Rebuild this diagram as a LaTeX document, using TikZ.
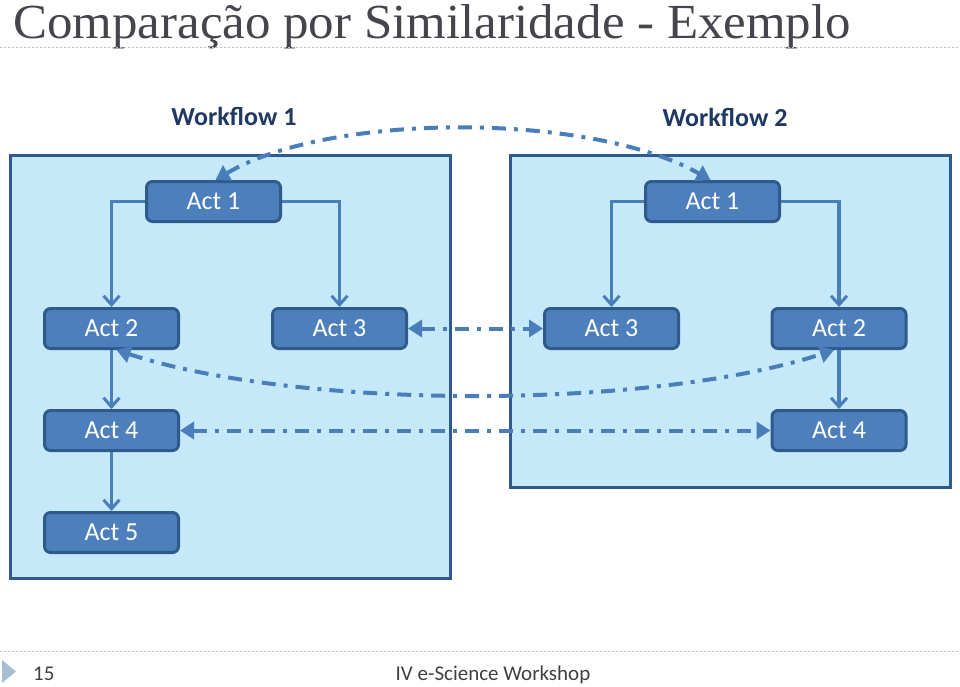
\documentclass[tikz,border=0pt]{standalone}
\usepackage{fontspec}
\setmainfont{Liberation Serif}
\newfontfamily\calfont{Carlito}
\usetikzlibrary{arrows.meta}
\definecolor{boxfill}{HTML}{C5E9F9}
\definecolor{boxline}{HTML}{2E5A8E}
\definecolor{actfill}{HTML}{4C7FBC}
\definecolor{actline}{HTML}{2F5A8C}
\definecolor{flowc}{HTML}{4A7EBB}
\definecolor{navy}{HTML}{1F3864}
\definecolor{titlec}{HTML}{45454E}
\definecolor{footc}{HTML}{404040}
\definecolor{tric}{HTML}{A7BFD3}
\tikzset{
  bigbox/.style={draw=boxline, fill=boxfill, line width=3pt},
  act/.style={draw=actline, fill=actfill, line width=3pt, rounded corners=6pt,
    minimum width=134pt, minimum height=40pt, inner sep=0pt, text=white,
    font=\calfont\fontsize{26}{30}\selectfont},
  flow/.style={draw=flowc, line width=3.4pt, -{Straight Barb[length=9pt,width=16pt,line width=3pt]}},
  match/.style={draw=flowc, line width=4pt, dash pattern=on 14pt off 8pt on 4pt off 8pt,
    {Triangle[length=14pt,width=17pt]}-{Triangle[length=14pt,width=17pt]}},
  wflabel/.style={text=navy, font=\calfont\bfseries\fontsize{26}{30}\selectfont, inner sep=0pt},
  sep/.style={draw=gray!50, line width=1pt, dash pattern=on 2pt off 2pt}
}
\begin{document}
\begin{tikzpicture}[x=1pt,y=-1pt]
\useasboundingbox (0,0) rectangle (960,686);
% title
\node[anchor=base west, text=titlec, font=\fontsize{49}{54}\selectfont, inner sep=0pt,
  xscale=1.04, text height=33pt, text depth=9pt] (title) at (13,38) {Comparação por Similaridade - Exemplo};
\draw[sep] (0,47) -- (960,47);
\draw[sep] (0,651) -- (960,651);
% footer
\fill[tric] (2,660) -- (16,671.5) -- (2,683) -- cycle;
\node[anchor=base west, text=footc, font=\calfont\fontsize{21}{25}\selectfont, inner sep=0pt] (pnum) at (33,680) {15};
\node[anchor=base, text=footc, font=\calfont\fontsize{21}{25}\selectfont, inner sep=0pt] (foot) at (493,680) {IV e-Science Workshop};
% big boxes
\draw[bigbox] (10,155) rectangle (450,578);
\draw[bigbox] (510,155) rectangle (950,487);
% labels
\node[wflabel] (wf1) at (234,116) {Workflow 1};
\node[wflabel] (wf2) at (725,117) {Workflow 2};
% workflow 1
\node[act] (l1) at (213.5,201.5) {Act 1};
\node[act] (l2) at (111.5,328.5) {Act 2};
\node[act] (l3) at (339.5,328.5) {Act 3};
\node[act] (l4) at (111.5,430.5) {Act 4};
\node[act] (l5) at (111.5,532.5) {Act 5};
% workflow 2
\node[act] (r1) at (712.5,201.5) {Act 1};
\node[act] (r3) at (611.5,328.5) {Act 3};
\node[act] (r2) at (839,328.5) {Act 2};
\node[act] (r4) at (839,430.5) {Act 4};
% flows
\draw[flow] (l1.west) -| (l2.north);
\draw[flow] (l1.east) -| (l3.north);
\draw[flow] (l2.south) -- (l4.north);
\draw[flow] (l4.south) -- (l5.north);
\draw[flow] (r1.west) -| (r3.north);
\draw[flow] (r1.east) -| (r2.north);
\draw[flow] (r2.south) -- (r4.north);
% matches
\draw[match] (l3.east) -- (r3.west);
\draw[match] (l4.east) -- (r4.west);
\draw[match] ([xshift=2pt]l1.north) .. controls (330,112) and (590,112) .. ([xshift=-2pt]r1.north);
\draw[match] ([xshift=5pt]l2.south) .. controls (300,410) and (650,410) .. ([xshift=-5pt]r2.south);
\end{tikzpicture}
\end{document}
